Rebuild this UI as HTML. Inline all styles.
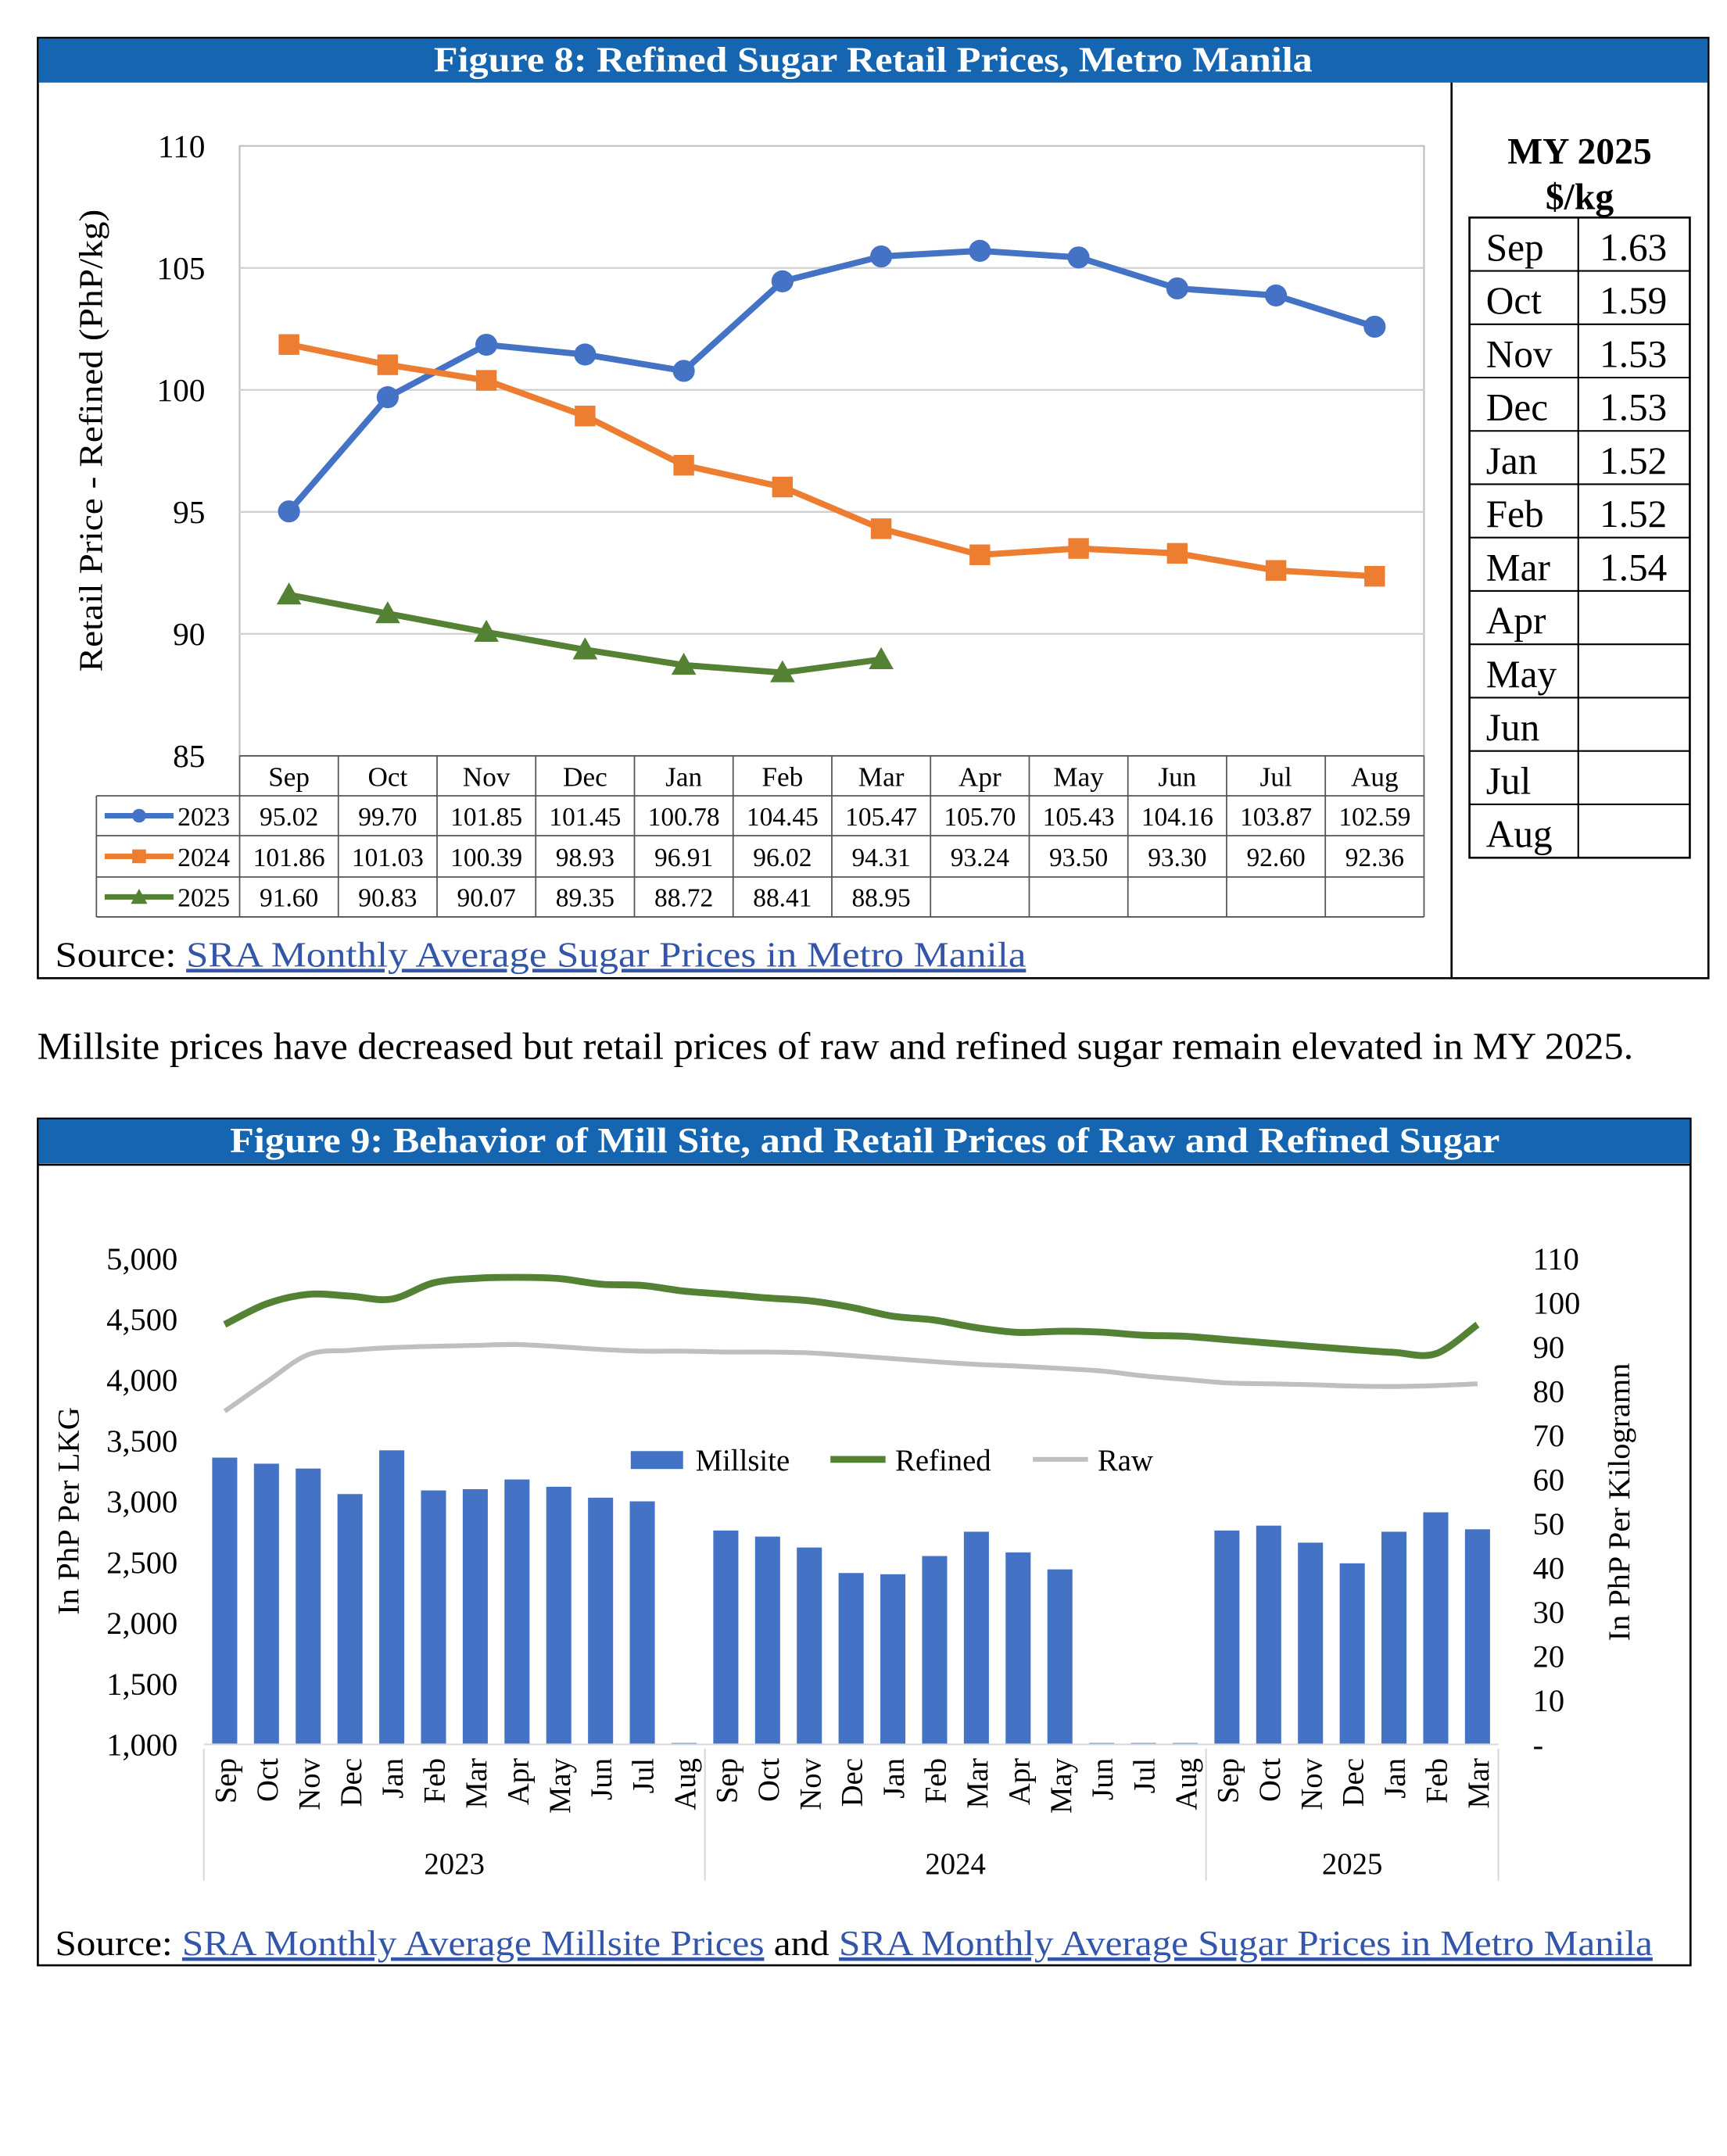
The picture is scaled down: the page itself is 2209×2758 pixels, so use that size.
<!DOCTYPE html>
<html><head><meta charset="utf-8"><style>
html,body{margin:0;padding:0;background:#fff;}
svg{display:block;font-family:"Liberation Serif",serif;}
</style></head><body>
<svg id="s" width="2209" height="2758" viewBox="0 0 1254 1566" preserveAspectRatio="none" xmlns="http://www.w3.org/2000/svg">
<rect x="0" y="0" width="1254" height="1566" fill="#fff"/>
<g>
<rect x="27.5" y="27.5" width="1213" height="683" fill="none" stroke="#000" stroke-width="1.5"/>
<rect x="28" y="28" width="1212" height="32" fill="#1565b0"/>
<text x="315" y="52" fill="#fff" font-size="26" font-weight="bold" textLength="638" lengthAdjust="spacingAndGlyphs">Figure 8: Refined Sugar Retail Prices, Metro Manila</text>
<line x1="1054" y1="60" x2="1054" y2="710" stroke="#000" stroke-width="1.5"/>
<text transform="translate(74,488) rotate(-90)" font-size="24" textLength="336" lengthAdjust="spacingAndGlyphs">Retail Price - Refined (PhP/kg)</text>
<text x="40" y="702" font-size="26" textLength="705" lengthAdjust="spacingAndGlyphs">Source: <tspan fill="#3355aa" text-decoration="underline">SRA Monthly Average Sugar Prices in Metro Manila</tspan></text>
<text x="1147" y="119" font-size="27" font-weight="bold" text-anchor="middle">MY 2025</text>
<text x="1147" y="152" font-size="27" font-weight="bold" text-anchor="middle">$/kg</text>
<g id="g8"></g>
<g id="usd"></g>
</g>
<text x="27" y="769" font-size="27.5" textLength="1159" lengthAdjust="spacingAndGlyphs">Millsite prices have decreased but retail prices of raw and refined sugar remain elevated in MY 2025.</text>
<g>
<rect x="27.5" y="812.5" width="1200" height="615" fill="none" stroke="#000" stroke-width="1.5"/>
<rect x="28" y="813" width="1199" height="32" fill="#1565b0"/>
<text x="167" y="837" fill="#fff" font-size="26" font-weight="bold" textLength="922" lengthAdjust="spacingAndGlyphs">Figure 9: Behavior of Mill Site, and Retail Prices of Raw and Refined Sugar</text>
<line x1="28" y1="846" x2="1227" y2="846" stroke="#000" stroke-width="1.5"/>
<text transform="translate(57,1173) rotate(-90)" font-size="22" textLength="151" lengthAdjust="spacingAndGlyphs">In PhP Per LKG</text>
<text transform="translate(1183,1192) rotate(-90)" font-size="22" textLength="202" lengthAdjust="spacingAndGlyphs">In PhP Per Kilogramn</text>
<text x="40" y="1420" font-size="26" textLength="1160" lengthAdjust="spacingAndGlyphs">Source: <tspan fill="#3355aa" text-decoration="underline">SRA Monthly Average Millsite Prices</tspan> and  <tspan fill="#3355aa" text-decoration="underline">SRA Monthly Average Sugar Prices in Metro Manila</tspan></text>
<g id="g9"></g>
</g>
</svg>
<script>
const NS="http://www.w3.org/2000/svg";
function mk(p,tag,a,txt){const e=document.createElementNS(NS,tag);for(const k in a)e.setAttribute(k,a[k]);if(txt!==undefined)e.textContent=txt;p.appendChild(e);return e;}
// ===== Figure 8 data =====
const months8=["Sep","Oct","Nov","Dec","Jan","Feb","Mar","Apr","May","Jun","Jul","Aug"];
const yTicks8=[85,90,95,100,105,110];
const s2023=[95.02,99.70,101.85,101.45,100.78,104.45,105.47,105.70,105.43,104.16,103.87,102.59];
const s2024=[101.86,101.03,100.39,98.93,96.91,96.02,94.31,93.24,93.50,93.30,92.60,92.36];
const s2025=[91.60,90.83,90.07,89.35,88.72,88.41,88.95];
const usdVals=["1.63","1.59","1.53","1.53","1.52","1.52","1.54","","","","",""];
// ===== Figure 9 data =====
const yearGroups=["2023","2024","2025"];
const groupMonths=[months8,months8,["Sep","Oct","Nov","Dec","Jan","Feb","Mar"]];
const millsite=[3360,3310,3270,3060,3420,3090,3100,3180,3120,3030,3000,0,2760,2710,2620,2410,2400,2550,2750,2580,2440,0,0,0,2760,2800,2660,2490,2750,2910,2770];
const refined=[95.02,99.70,101.85,101.45,100.78,104.45,105.47,105.70,105.43,104.16,103.87,102.59,101.86,101.03,100.39,98.93,96.91,96.02,94.31,93.24,93.50,93.30,92.60,92.36,91.60,90.83,90.07,89.35,88.72,88.41,95.0];
const raw=[75.4,82,88.2,89.2,89.8,90.1,90.3,90.5,90.0,89.4,89.0,89.0,88.8,88.8,88.6,88.0,87.3,86.6,86.0,85.6,85.1,84.5,83.4,82.6,81.8,81.6,81.4,81.1,81.0,81.2,81.6];
const leftTicks=[1000,1500,2000,2500,3000,3500,4000,4500,5000];
const rightTicks=[0,10,20,30,40,50,60,70,80,90,100,110];

const g8=document.getElementById('g8');
const P={l:174,r:1034,t:106,b:549};
const cw=(P.r-P.l)/12;
const y8=v=>P.b-(v-85)/(110-85)*(P.b-P.t);
const x8=i=>P.l+cw*(i+0.5);
mk(g8,'rect',{x:P.l,y:P.t,width:P.r-P.l,height:P.b-P.t,fill:'none',stroke:'#bfbfbf','stroke-width':1.2});
yTicks8.forEach(v=>{
  if(v>85&&v<110){const gl=mk(g8,'line',{x1:P.l,x2:P.r,y1:y8(v),y2:y8(v),stroke:'#d0d0d0','stroke-width':1.3});
  
  }
  const t=mk(g8,'text',{x:149,y:y8(v)+8,'font-size':23.5,'text-anchor':'end'},String(v));
  
  
});
const colors={a:'#4472c4',b:'#ed7d31',c:'#548235'};
function series(vals,col,shape,name){
  const pts=vals.map((v,i)=>x8(i)+','+y8(v)).join(' ');
  const pl=mk(g8,'polyline',{points:pts,fill:'none',stroke:col,'stroke-width':4.5,'stroke-linejoin':'round'});
  
  
  vals.forEach((v,i)=>{
    let m;const x=x8(i),y=y8(v);
    if(shape==='c')m=mk(g8,'circle',{cx:x,cy:y,r:8,fill:col});
    else if(shape==='s')m=mk(g8,'rect',{x:x-7.5,y:y-7.5,width:15,height:15,fill:col});
    else m=mk(g8,'polygon',{points:`${x},${y-9} ${x-9},${y+7} ${x+9},${y+7}`,fill:col});
    
    
  });
}
series(s2023,colors.a,'c','2023');
series(s2024,colors.b,'s','2024');
series(s2025,colors.c,'t','2025');
const rowsY=[549,578,607,637,666];
const tl='#555';
mk(g8,'line',{x1:P.l,x2:P.r,y1:549,y2:549,stroke:tl,'stroke-width':1});
for(let r=1;r<5;r++)mk(g8,'line',{x1:70,x2:P.r,y1:rowsY[r],y2:rowsY[r],stroke:tl,'stroke-width':1});
mk(g8,'line',{x1:70,x2:70,y1:578,y2:666,stroke:tl,'stroke-width':1});
for(let c=0;c<=12;c++)mk(g8,'line',{x1:P.l+cw*c,x2:P.l+cw*c,y1:549,y2:666,stroke:tl,'stroke-width':1});
months8.forEach((m,i)=>{const t=mk(g8,'text',{x:x8(i),y:571,'font-size':20,'text-anchor':'middle'},m);
  
  });
[[s2023,'2023',colors.a,'c'],[s2024,'2024',colors.b,'s'],[s2025,'2025',colors.c,'t']].forEach((s,r)=>{
  const yc=(rowsY[r+1]+rowsY[r+2])/2;
  mk(g8,'line',{x1:76,x2:126,y1:yc,y2:yc,stroke:s[2],'stroke-width':4});
  if(s[3]==='c')mk(g8,'circle',{cx:101,cy:yc,r:5,fill:s[2]});
  else if(s[3]==='s')mk(g8,'rect',{x:96,y:yc-5,width:10,height:10,fill:s[2]});
  else mk(g8,'polygon',{points:`101,${yc-6} 95,${yc+5} 107,${yc+5}`,fill:s[2]});
  const lt=mk(g8,'text',{x:129,y:yc+7,'font-size':19},s[1]);
  
  
  s[0].forEach((v,i)=>{const t=mk(g8,'text',{x:x8(i),y:yc+7,'font-size':19,'text-anchor':'middle'},v.toFixed(2));
    
    });
});
const ug=document.getElementById('usd');
const ut=158,uh=(623-158)/12;
mk(ug,'rect',{x:1067,y:ut,width:160,height:uh*12,fill:'none',stroke:'#000','stroke-width':1.5});
mk(ug,'line',{x1:1146,x2:1146,y1:ut,y2:ut+uh*12,stroke:'#000','stroke-width':1.2});
months8.forEach((m,i)=>{
  if(i>0)mk(ug,'line',{x1:1067,x2:1227,y1:ut+uh*i,y2:ut+uh*i,stroke:'#000','stroke-width':1.2});
  const t=mk(ug,'text',{x:1079,y:ut+uh*i+31,'font-size':28},m);
  
  
  const v=mk(ug,'text',{x:1186,y:ut+uh*i+31,'font-size':28,'text-anchor':'middle'},usdVals[i]);
  
  
});
const g9=document.getElementById('g9');
const Q={l:148,r:1088,t:914,b:1267};
const n=millsite.length,bw=(Q.r-Q.l)/n;
const yl=v=>Q.b-(v-1000)/4000*(Q.b-Q.t);
const yr=v=>Q.b-v/110*(Q.b-Q.t);
const x9=i=>Q.l+bw*(i+0.5);
leftTicks.forEach(v=>{const t=mk(g9,'text',{x:129,y:yl(v)+8,'font-size':23,'text-anchor':'end'},v.toLocaleString('en-US'));
  
  });
rightTicks.forEach(v=>{const t=mk(g9,'text',{x:1113,y:yr(v)+8,'font-size':23},v===0?'-':String(v));
  
  });
millsite.forEach((v,i)=>{
  const h=Math.max(0,Q.b-yl(Math.max(v,1000)));
  const b=mk(g9,'rect',{x:x9(i)-bw*0.3,y:Q.b-(h||1),width:bw*0.6,height:h||1,fill:'#4472c4'});
  
  
});
function smooth(vals,f){const p=vals.map((v,i)=>[x9(i),f(v)]);let d=`M${p[0][0]},${p[0][1]}`;
  for(let i=0;i<p.length-1;i++){const p0=p[i-1]||p[i],p1=p[i],p2=p[i+1],p3=p[i+2]||p2;
    d+=` C${p1[0]+(p2[0]-p0[0])/6},${p1[1]+(p2[1]-p0[1])/6} ${p2[0]-(p3[0]-p1[0])/6},${p2[1]-(p3[1]-p1[1])/6} ${p2[0]},${p2[1]}`;}return d;}
const rl=mk(g9,'path',{d:smooth(raw,yr),fill:'none',stroke:'#bfbfbf','stroke-width':3.5});


const fl=mk(g9,'path',{d:smooth(refined,yr),fill:'none',stroke:'#548235','stroke-width':5});


const lg=[['Millsite','bar','#4472c4',458],['Refined','line','#548235',603],['Raw','line','#bfbfbf',750]];
lg.forEach(l=>{
  if(l[1]==='bar')mk(g9,'rect',{x:l[3],y:1054,width:38,height:13,fill:l[2]});
  else mk(g9,'line',{x1:l[3],x2:l[3]+40,y1:1060,y2:1060,stroke:l[2],'stroke-width':l[0]==='Raw'?3.5:5});
  const t=mk(g9,'text',{x:l[3]+47,y:1068,'font-size':22},l[0]);
  
  
});
mk(g9,'line',{x1:Q.l,x2:Q.r,y1:Q.b,y2:Q.b,stroke:'#d9d9d9','stroke-width':1.2});
let idx=0;
yearGroups.forEach((yg,gi)=>{
  const start=idx;
  groupMonths[gi].forEach(m=>{
    const t=mk(g9,'text',{transform:`translate(${x9(idx)+8},${1277}) rotate(-90)`,'font-size':22,'text-anchor':'end'},m);
    
    
    idx++;
  });
  const xs=Q.l+bw*start,xe=Q.l+bw*idx;
  mk(g9,'line',{x1:xs,x2:xs,y1:1270,y2:1366,stroke:'#d9d9d9','stroke-width':1.2});
  if(gi===yearGroups.length-1)mk(g9,'line',{x1:xe,x2:xe,y1:1270,y2:1366,stroke:'#d9d9d9','stroke-width':1.2});
  const gt=mk(g9,'text',{x:(xs+xe)/2,y:1361,'font-size':22,'text-anchor':'middle'},yg);
  
  
});
</script>
</body></html>
